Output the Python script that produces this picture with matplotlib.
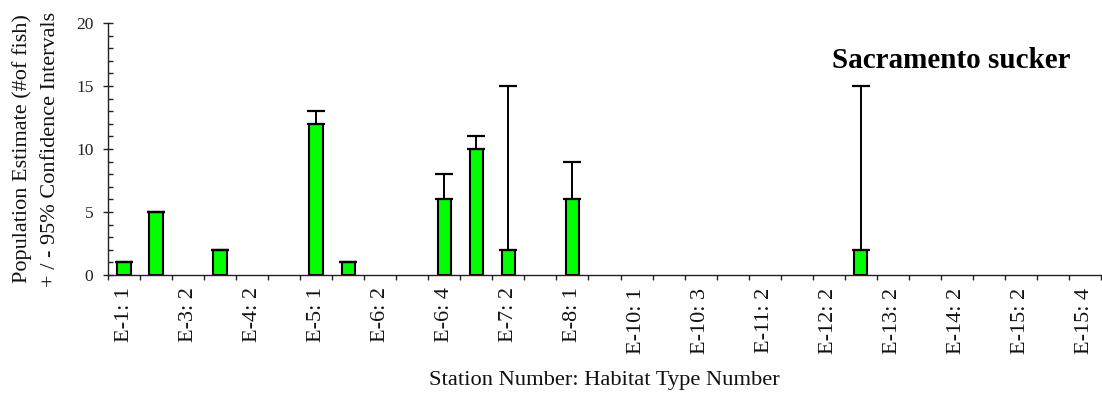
import numpy as np
import matplotlib
matplotlib.use("Agg")
import matplotlib.pyplot as plt
from matplotlib.ticker import FixedLocator, MultipleLocator, NullFormatter, FixedFormatter

plt.rcParams['font.family'] = ['Liberation Serif', 'DejaVu Serif']

# Station : habitat-type categories (only every other one is labelled on the axis)
stations = ["E-1: 1", "E-2: 1", "E-3: 2", "E-3: 4", "E-4: 2", "E-4: 4",
            "E-5: 1", "E-5: 2", "E-6: 2", "E-6: 3", "E-6: 4", "E-7: 1",
            "E-7: 2", "E-7: 4", "E-8: 1", "E-9: 1", "E-10: 1", "E-10: 2",
            "E-10: 3", "E-11: 1", "E-11: 2", "E-12: 1", "E-12: 2", "E-13: 1",
            "E-13: 2", "E-14: 1", "E-14: 2", "E-15: 1", "E-15: 2", "E-15: 3",
            "E-15: 4"]

# Population estimate (number of fish) and upper 95% confidence limit
estimate = [1, 5, 0, 2, 0, 0, 12, 1, 0, 0, 6, 10, 2, 0, 6, 0, 0, 0, 0, 0,
            0, 0, 0, 2, 0, 0, 0, 0, 0, 0, 0]
upper_ci = [1, 5, 0, 2, 0, 0, 13, 1, 0, 0, 8, 11, 15, 0, 9, 0, 0, 0, 0, 0,
            0, 0, 0, 15, 0, 0, 0, 0, 0, 0, 0]

species = "Sacramento sucker"

est = np.array(estimate, dtype=float)
hi = np.array(upper_ci, dtype=float)
x = np.arange(len(stations))
present = est > 0

fig = plt.figure(figsize=(11.02, 3.94), dpi=100)
ax = fig.add_axes([108 / 1102, 1 - 275 / 394, (1101 - 108) / 1102, (275 - 23) / 394])

ax.bar(x[present], est[present], width=0.42, color='#00ff00',
       edgecolor='black', linewidth=1.5, zorder=2)
ax.errorbar(x[present], est[present],
            yerr=[np.zeros(present.sum()), hi[present] - est[present]],
            fmt='none', ecolor='black', elinewidth=1.4, capsize=6.5,
            capthick=1.6, zorder=3)

ax.set_xlim(-0.5, len(stations) - 0.5)
ax.set_ylim(0, 20)

for side in ('top', 'right'):
    ax.spines[side].set_visible(False)
for side in ('left', 'bottom'):
    ax.spines[side].set_linewidth(1.0)
    ax.spines[side].set_color('#222222')

# y axis: labelled ticks every 5, inner minor ticks every 1
ax.yaxis.set_major_locator(MultipleLocator(5))
ax.yaxis.set_minor_locator(MultipleLocator(1))
ax.tick_params(axis='y', which='major', direction='inout', length=7, width=1.0,
               labelsize=12.5, pad=7, colors='#222222')
ax.tick_params(axis='y', which='minor', direction='in', length=3.5, width=1.0,
               colors='#222222')

# x axis: boundary ticks between categories, labels centred on categories
ax.xaxis.set_major_locator(FixedLocator(np.arange(len(stations) + 1) - 0.5))
ax.xaxis.set_major_formatter(NullFormatter())
ax.xaxis.set_minor_locator(FixedLocator(x))
ax.xaxis.set_minor_formatter(FixedFormatter(
    [s if i % 2 == 0 else '' for i, s in enumerate(stations)]))
ax.tick_params(axis='x', which='major', direction='out', length=3.5, width=1.0,
               colors='#222222')
ax.tick_params(axis='x', which='minor', length=0, labelsize=16, pad=9,
               labelrotation=90, labelcolor='#111111')

ax.set_ylabel("Population Estimate (#of fish)\n+ / - 95% Confidence Intervals",
              fontsize=16, linespacing=1.6, color='#111111')
ax.yaxis.set_label_coords(-(108 - 36) / 993, 0.5)
ax.yaxis.label.set_verticalalignment('center')

fig.text((108 + 1101) / 2 / 1102, 1 - 385 / 394,
         "Station Number: Habitat Type Number", fontsize=16.2,
         ha='center', va='baseline', color='#111111')

fig.text(951 / 1102, 1 - 68 / 394, species, fontsize=21, fontweight='bold',
         ha='center', va='baseline', color='black')

fig.savefig("out.png", dpi=100)
